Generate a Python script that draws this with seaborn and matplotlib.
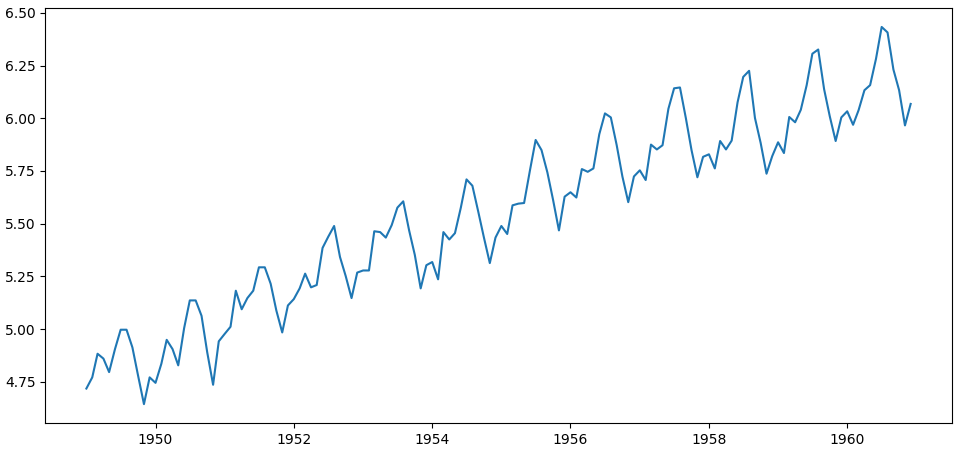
import pandas as pd
import matplotlib
matplotlib.use("Agg")
import matplotlib.pyplot as plt
import matplotlib.dates as mdates
import seaborn as sns

# log of monthly passengers, Jan 1949 - Dec 1960
log_1949 = [4.718, 4.771, 4.883, 4.860, 4.796, 4.905, 4.997, 4.997, 4.913, 4.779, 4.644, 4.771]
log_1950 = [4.745, 4.836, 4.949, 4.905, 4.828, 5.004, 5.136, 5.136, 5.063, 4.890, 4.736, 4.942]
log_1951 = [4.977, 5.011, 5.182, 5.094, 5.147, 5.182, 5.293, 5.293, 5.215, 5.088, 4.984, 5.112]
log_1952 = [5.142, 5.193, 5.263, 5.198, 5.209, 5.385, 5.438, 5.489, 5.342, 5.252, 5.147, 5.268]
log_1953 = [5.278, 5.278, 5.464, 5.460, 5.434, 5.493, 5.576, 5.606, 5.468, 5.352, 5.193, 5.303]
log_1954 = [5.318, 5.236, 5.460, 5.425, 5.455, 5.576, 5.710, 5.680, 5.557, 5.434, 5.313, 5.434]
log_1955 = [5.489, 5.451, 5.587, 5.595, 5.598, 5.753, 5.897, 5.849, 5.743, 5.613, 5.468, 5.628]
log_1956 = [5.649, 5.624, 5.759, 5.746, 5.762, 5.924, 6.023, 6.004, 5.872, 5.724, 5.602, 5.724]
log_1957 = [5.753, 5.707, 5.875, 5.852, 5.872, 6.045, 6.142, 6.146, 6.001, 5.849, 5.720, 5.817]
log_1958 = [5.829, 5.762, 5.892, 5.852, 5.894, 6.075, 6.196, 6.225, 6.001, 5.883, 5.737, 5.820]
log_1959 = [5.886, 5.835, 6.006, 5.981, 6.040, 6.157, 6.306, 6.326, 6.138, 6.009, 5.892, 6.004]
log_1960 = [6.033, 5.969, 6.038, 6.133, 6.157, 6.282, 6.433, 6.407, 6.231, 6.133, 5.966, 6.068]

values = (log_1949 + log_1950 + log_1951 + log_1952 + log_1953 + log_1954
          + log_1955 + log_1956 + log_1957 + log_1958 + log_1959 + log_1960)
months = pd.date_range("1949-01-01", periods=len(values), freq="MS")

df = pd.DataFrame({"Month": months, "value": values})

fig = plt.figure(figsize=(9.61, 4.5), dpi=100)
ax = fig.add_axes([0.047, 0.06, 0.9435, 0.922])
sns.lineplot(x="Month", y="value", data=df, ax=ax, color="#1f77b4", linewidth=1.5)
ax.xaxis.set_major_locator(mdates.YearLocator(2))
ax.xaxis.set_major_formatter(mdates.DateFormatter("%Y"))
ax.set_xlabel("")
ax.set_ylabel("")
plt.savefig("out.png", dpi=100)
